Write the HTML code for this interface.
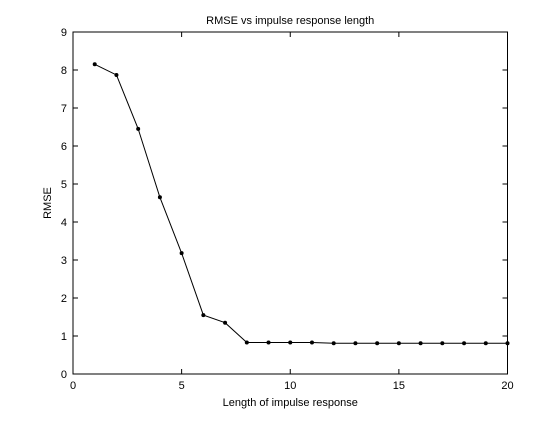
<!DOCTYPE html>
<html><head><meta charset="utf-8"><style>
body{margin:0;background:#fff;width:560px;height:420px;overflow:hidden}
text{font-family:"Liberation Sans",Arial,sans-serif;font-size:11px;fill:#000}
</style></head><body>
<svg id="c" width="560" height="420"></svg>
<script>
const xValues=[1,2,3,4,5,6,7,8,9,10,11,12,13,14,15,16,17,18,19,20];
const rmseValues=[8.15,7.87,6.45,4.65,3.18,1.55,1.35,0.83,0.83,0.83,0.83,0.81,0.81,0.81,0.81,0.81,0.81,0.81,0.81,0.81];
const xTicks=[0,5,10,15,20];
const yTicks=[0,1,2,3,4,5,6,7,8,9];
const L=73,R=507.5,T=32,B=374;
const sx=v=>L+(v-0)/(20-0)*(R-L);
const sy=v=>B-(v-0)/(9-0)*(B-T);
const svg=document.getElementById('c');
const NS='http://www.w3.org/2000/svg';
function mk(t,a,p){const e=document.createElementNS(NS,t);for(const k in a)e.setAttribute(k,a[k]);(p||svg).appendChild(e);return e;}
let e=mk('rect',{x:L,y:T,width:R-L,height:B-T,fill:'#fff',stroke:'#000','stroke-width':1});


xTicks.forEach(v=>{const x=sx(v);
 let t=mk('line',{x1:x,x2:x,y1:B,y2:B-5,stroke:'#000'});
 
 mk('line',{x1:x,x2:x,y1:T,y2:T+5,stroke:'#000'});
 let l=mk('text',{x:x,y:B+15,'text-anchor':'middle'});l.textContent=v;
 });
yTicks.forEach(v=>{const y=sy(v);
 let t=mk('line',{x1:L,x2:L+5,y1:y,y2:y,stroke:'#000'});
 
 mk('line',{x1:R,x2:R-5,y1:y,y2:y,stroke:'#000'});
 let l=mk('text',{x:L-6,y:y+4,'text-anchor':'end'});l.textContent=v;
 });
let pl=mk('polyline',{points:xValues.map((x,i)=>sx(x)+','+sy(rmseValues[i])).join(' '),fill:'none',stroke:'#000','stroke-width':1});


xValues.forEach((x,i)=>{let c=mk('circle',{cx:sx(x),cy:sy(rmseValues[i]),r:2,fill:'#000'});
 
 });
let ti=mk('text',{x:(L+R)/2,y:24,'text-anchor':'middle'});ti.textContent='RMSE vs impulse response length';

let xl=mk('text',{x:(L+R)/2,y:406,'text-anchor':'middle'});xl.textContent='Length of impulse response';

let yl=mk('text',{x:0,y:0,'text-anchor':'middle',transform:'translate(51,'+((T+B)/2)+') rotate(-90)'});yl.textContent='RMSE';

</script>
</body></html>
